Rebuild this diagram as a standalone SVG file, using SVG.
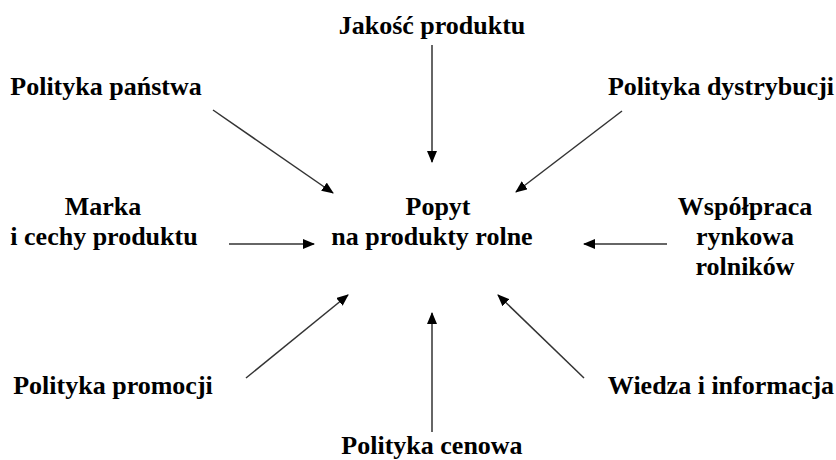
<svg xmlns="http://www.w3.org/2000/svg" width="836" height="460" viewBox="0 0 836 460">
<defs>
<marker id="ah" markerUnits="userSpaceOnUse" markerWidth="12" markerHeight="10" refX="11" refY="5" orient="auto">
<path d="M0,0 L12,5 L0,10 z" fill="#000"/>
</marker>
<style>
text{font-family:"Liberation Serif","Times New Roman",serif;font-weight:bold;font-size:26px;fill:#000;text-anchor:middle}
.c line{stroke:#333;stroke-width:1.5;marker-end:url(#ah)}
</style>
</defs>
<rect width="836" height="460" fill="#fff"/>
<g id="center"><text x="438" y="215">Popyt</text><text x="432" y="245">na produkty rolne</text></g>
<g id="jakosc"><text x="432" y="34">Jakość produktu</text></g>
<g id="panstwa"><text x="106" y="95">Polityka państwa</text></g>
<g id="dystrybucji"><text x="721" y="95">Polityka dystrybucji</text></g>
<g id="marka"><text x="103" y="215">Marka</text><text x="104" y="245">i cechy produktu</text></g>
<g id="wspolpraca"><text x="745" y="215">Współpraca</text><text x="745" y="245">rynkowa</text><text x="745" y="275">rolników</text></g>
<g id="promocji"><text x="113" y="394">Polityka promocji</text></g>
<g id="wiedza"><text x="721" y="394">Wiedza i informacja</text></g>
<g id="cenowa"><text x="432" y="454">Polityka cenowa</text></g>
<g class="c" id="connectors">
<line x1="432" y1="45" x2="432" y2="162"/>
<line x1="213" y1="110" x2="333" y2="193"/>
<line x1="622" y1="111" x2="516" y2="192"/>
<line x1="229" y1="244" x2="314" y2="244"/>
<line x1="667" y1="244" x2="584" y2="244"/>
<line x1="246" y1="378" x2="348" y2="295"/>
<line x1="432" y1="432" x2="432" y2="313"/>
<line x1="584" y1="378" x2="498" y2="295"/>
</g>
</svg>
